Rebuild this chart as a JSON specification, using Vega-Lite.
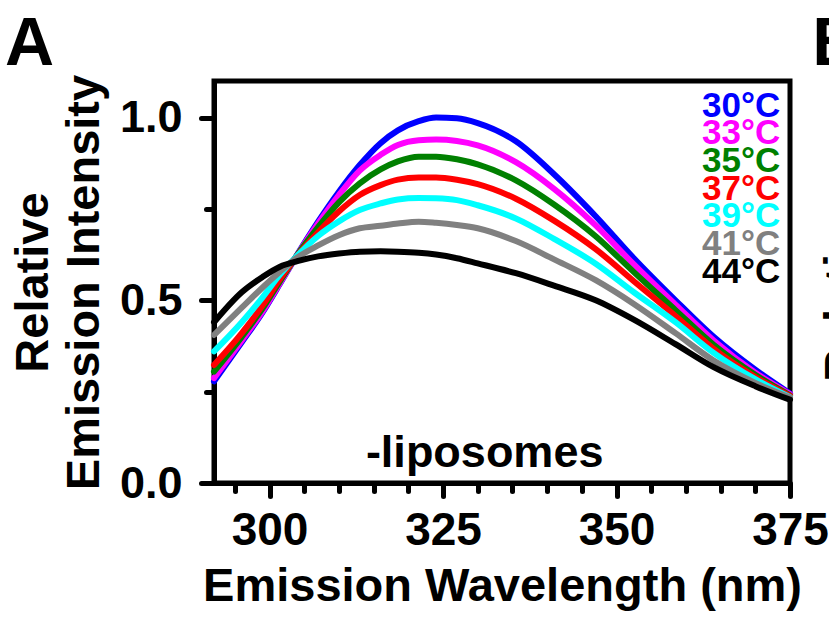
{
  "$schema": "https://vega.github.io/schema/vega-lite/v6.json",
  "width": 576,
  "height": 402,
  "autosize": {"type": "none"},
  "padding": {"left": 214, "top": 81, "right": 39, "bottom": 136},
  "background": "white",
  "config": {
    "view": {"stroke": "black", "strokeWidth": 5},
    "font": "Liberation Sans",
    "axis": {"grid": false, "domainColor": "black", "domainWidth": 5, "tickColor": "black", "tickWidth": 5, "tickCap": "round", "labelFont": "Liberation Sans", "labelFontWeight": "bold", "labelColor": "black", "titleFont": "Liberation Sans", "titleFontWeight": "bold", "titleColor": "black", "labelOverlap": false}
  },
  "datasets": {
    "spectra": [
      {"nm":292,"v":0.278,"t":"30°C"},{"nm":296,"v":0.385,"t":"30°C"},{"nm":299,"v":0.467,"t":"30°C"},{"nm":301.5,"v":0.545,"t":"30°C"},{"nm":304,"v":0.625,"t":"30°C"},{"nm":307,"v":0.715,"t":"30°C"},{"nm":310,"v":0.797,"t":"30°C"},{"nm":313,"v":0.87,"t":"30°C"},{"nm":316,"v":0.93,"t":"30°C"},{"nm":318.5,"v":0.965,"t":"30°C"},{"nm":321.5,"v":0.99,"t":"30°C"},{"nm":324,"v":1.0,"t":"30°C"},{"nm":327,"v":0.998,"t":"30°C"},{"nm":330,"v":0.985,"t":"30°C"},{"nm":335.5,"v":0.935,"t":"30°C"},{"nm":341,"v":0.845,"t":"30°C"},{"nm":347,"v":0.73,"t":"30°C"},{"nm":352.5,"v":0.615,"t":"30°C"},{"nm":358.5,"v":0.5,"t":"30°C"},{"nm":364,"v":0.4,"t":"30°C"},{"nm":370,"v":0.31,"t":"30°C"},{"nm":375,"v":0.245,"t":"30°C"},
      {"nm":292,"v":0.287,"t":"33°C"},{"nm":296,"v":0.39,"t":"33°C"},{"nm":299,"v":0.47,"t":"33°C"},{"nm":301.5,"v":0.547,"t":"33°C"},{"nm":304,"v":0.624,"t":"33°C"},{"nm":307,"v":0.71,"t":"33°C"},{"nm":310,"v":0.788,"t":"33°C"},{"nm":313,"v":0.855,"t":"33°C"},{"nm":316,"v":0.898,"t":"33°C"},{"nm":318.5,"v":0.925,"t":"33°C"},{"nm":321.5,"v":0.938,"t":"33°C"},{"nm":324,"v":0.94,"t":"33°C"},{"nm":327,"v":0.936,"t":"33°C"},{"nm":330,"v":0.924,"t":"33°C"},{"nm":335.5,"v":0.878,"t":"33°C"},{"nm":341,"v":0.805,"t":"33°C"},{"nm":347,"v":0.705,"t":"33°C"},{"nm":352.5,"v":0.598,"t":"33°C"},{"nm":358.5,"v":0.488,"t":"33°C"},{"nm":364,"v":0.39,"t":"33°C"},{"nm":370,"v":0.302,"t":"33°C"},{"nm":375,"v":0.243,"t":"33°C"},
      {"nm":292,"v":0.305,"t":"35°C"},{"nm":296,"v":0.4,"t":"35°C"},{"nm":299,"v":0.478,"t":"35°C"},{"nm":301.5,"v":0.552,"t":"35°C"},{"nm":304,"v":0.624,"t":"35°C"},{"nm":307,"v":0.7,"t":"35°C"},{"nm":310,"v":0.768,"t":"35°C"},{"nm":313,"v":0.82,"t":"35°C"},{"nm":316,"v":0.858,"t":"35°C"},{"nm":318.5,"v":0.88,"t":"35°C"},{"nm":321.5,"v":0.893,"t":"35°C"},{"nm":324,"v":0.893,"t":"35°C"},{"nm":327,"v":0.886,"t":"35°C"},{"nm":330,"v":0.872,"t":"35°C"},{"nm":335.5,"v":0.828,"t":"35°C"},{"nm":341,"v":0.762,"t":"35°C"},{"nm":347,"v":0.675,"t":"35°C"},{"nm":352.5,"v":0.577,"t":"35°C"},{"nm":358.5,"v":0.473,"t":"35°C"},{"nm":364,"v":0.378,"t":"35°C"},{"nm":370,"v":0.296,"t":"35°C"},{"nm":375,"v":0.24,"t":"35°C"},
      {"nm":292,"v":0.323,"t":"37°C"},{"nm":296,"v":0.41,"t":"37°C"},{"nm":299,"v":0.486,"t":"37°C"},{"nm":301.5,"v":0.558,"t":"37°C"},{"nm":304,"v":0.622,"t":"37°C"},{"nm":307,"v":0.686,"t":"37°C"},{"nm":310,"v":0.743,"t":"37°C"},{"nm":313,"v":0.788,"t":"37°C"},{"nm":316,"v":0.815,"t":"37°C"},{"nm":318.5,"v":0.83,"t":"37°C"},{"nm":321.5,"v":0.836,"t":"37°C"},{"nm":324,"v":0.836,"t":"37°C"},{"nm":327,"v":0.83,"t":"37°C"},{"nm":330,"v":0.818,"t":"37°C"},{"nm":335.5,"v":0.778,"t":"37°C"},{"nm":341,"v":0.718,"t":"37°C"},{"nm":347,"v":0.64,"t":"37°C"},{"nm":352.5,"v":0.552,"t":"37°C"},{"nm":358.5,"v":0.457,"t":"37°C"},{"nm":364,"v":0.367,"t":"37°C"},{"nm":370,"v":0.29,"t":"37°C"},{"nm":375,"v":0.238,"t":"37°C"},
      {"nm":292,"v":0.36,"t":"39°C"},{"nm":296,"v":0.44,"t":"39°C"},{"nm":299,"v":0.508,"t":"39°C"},{"nm":301.5,"v":0.57,"t":"39°C"},{"nm":304,"v":0.622,"t":"39°C"},{"nm":307,"v":0.676,"t":"39°C"},{"nm":310,"v":0.716,"t":"39°C"},{"nm":313,"v":0.747,"t":"39°C"},{"nm":316,"v":0.765,"t":"39°C"},{"nm":318.5,"v":0.776,"t":"39°C"},{"nm":321.5,"v":0.78,"t":"39°C"},{"nm":324,"v":0.779,"t":"39°C"},{"nm":327,"v":0.774,"t":"39°C"},{"nm":330,"v":0.76,"t":"39°C"},{"nm":335.5,"v":0.724,"t":"39°C"},{"nm":341,"v":0.668,"t":"39°C"},{"nm":347,"v":0.6,"t":"39°C"},{"nm":352.5,"v":0.522,"t":"39°C"},{"nm":358.5,"v":0.44,"t":"39°C"},{"nm":364,"v":0.356,"t":"39°C"},{"nm":370,"v":0.284,"t":"39°C"},{"nm":375,"v":0.235,"t":"39°C"},
      {"nm":292,"v":0.405,"t":"41°C"},{"nm":296,"v":0.48,"t":"41°C"},{"nm":299,"v":0.535,"t":"41°C"},{"nm":301.5,"v":0.578,"t":"41°C"},{"nm":304,"v":0.617,"t":"41°C"},{"nm":307,"v":0.65,"t":"41°C"},{"nm":310,"v":0.678,"t":"41°C"},{"nm":313,"v":0.697,"t":"41°C"},{"nm":316,"v":0.704,"t":"41°C"},{"nm":318.5,"v":0.71,"t":"41°C"},{"nm":321.5,"v":0.715,"t":"41°C"},{"nm":324,"v":0.712,"t":"41°C"},{"nm":327,"v":0.706,"t":"41°C"},{"nm":330,"v":0.697,"t":"41°C"},{"nm":335.5,"v":0.662,"t":"41°C"},{"nm":341,"v":0.612,"t":"41°C"},{"nm":347,"v":0.555,"t":"41°C"},{"nm":352.5,"v":0.49,"t":"41°C"},{"nm":358.5,"v":0.41,"t":"41°C"},{"nm":364,"v":0.335,"t":"41°C"},{"nm":370,"v":0.274,"t":"41°C"},{"nm":375,"v":0.234,"t":"41°C"},
      {"nm":292,"v":0.44,"t":"44°C"},{"nm":296,"v":0.522,"t":"44°C"},{"nm":299,"v":0.564,"t":"44°C"},{"nm":301.5,"v":0.592,"t":"44°C"},{"nm":304,"v":0.607,"t":"44°C"},{"nm":307,"v":0.62,"t":"44°C"},{"nm":310,"v":0.628,"t":"44°C"},{"nm":313,"v":0.633,"t":"44°C"},{"nm":316,"v":0.634,"t":"44°C"},{"nm":318.5,"v":0.633,"t":"44°C"},{"nm":321.5,"v":0.63,"t":"44°C"},{"nm":324,"v":0.625,"t":"44°C"},{"nm":327,"v":0.615,"t":"44°C"},{"nm":330,"v":0.601,"t":"44°C"},{"nm":335.5,"v":0.574,"t":"44°C"},{"nm":341,"v":0.54,"t":"44°C"},{"nm":347,"v":0.5,"t":"44°C"},{"nm":352.5,"v":0.447,"t":"44°C"},{"nm":358.5,"v":0.38,"t":"44°C"},{"nm":364,"v":0.317,"t":"44°C"},{"nm":370,"v":0.265,"t":"44°C"},{"nm":375,"v":0.228,"t":"44°C"}
    ],
    "temps": [{"t":"30°C"},{"t":"33°C"},{"t":"35°C"},{"t":"37°C"},{"t":"39°C"},{"t":"41°C"},{"t":"44°C"}],
    "panels": [{"label": "A", "nm": 261.9}, {"label": "B", "nm": 378.2}]
  },
  "layer": [
    {
      "layer": [
        {
          "data": {"name": "spectra"},
          "mark": {"type": "line", "strokeWidth": 6, "interpolate": "monotone", "strokeCap": "round", "strokeJoin": "round"},
          "encoding": {
            "x": {"field": "nm", "type": "quantitative", "scale": {"domain": [292, 375], "nice": false, "zero": false},
              "axis": {"title": "Emission Wavelength (nm)", "titleFontSize": 47, "titlePadding": 10, "labelFontSize": 46, "labelPadding": 12, "labelOverlap": false, "labelFlush": false, "tickCount": 40,
                "values": [295,300,305,310,315,320,325,330,335,340,345,350,355,360,365,370,375],
                "labelExpr": "datum.value % 25 === 0 ? datum.label : ''",
                "tickSize": {"condition": {"test": "datum.value % 25 === 0", "value": 13}, "value": 8}}},
            "y": {"field": "v", "type": "quantitative", "scale": {"domain": [0, 1.1], "nice": false},
              "axis": {"title": ["Relative", "Emission Intensity"], "titleFontSize": 47, "titleLineHeight": 51, "titlePadding": 11, "labelFontSize": 45, "labelPadding": 19, "labelOverlap": false, "tickCount": 20,
                "values": [0, 0.25, 0.5, 0.75, 1],
                "labelExpr": "datum.value % 0.5 === 0 ? format(datum.value, '.1f') : ''",
                "tickSize": {"condition": {"test": "datum.value % 0.5 === 0", "value": 13}, "value": 8}}},
            "color": {"field": "t", "type": "nominal",
              "scale": {"domain": ["30°C","33°C","35°C","37°C","39°C","41°C","44°C"], "range": ["#0000ff","#ff00ff","#008000","#ff0000","#00ffff","#808080","#000000"]},
              "legend": null}
          }
        },
        {
          "data": {"values": [{"label": "-liposomes"}]},
          "mark": {"type": "text", "font": "Liberation Sans", "fontSize": 45, "fontWeight": "bold", "color": "black", "align": "center", "baseline": "alphabetic"},
          "encoding": {
            "x": {"datum": 331},
            "y": {"datum": 0.045},
            "text": {"field": "label"}
          }
        },
        {
          "data": {"name": "panels"},
          "mark": {"type": "text", "font": "Liberation Sans", "fontSize": 68, "fontWeight": "bold", "color": "black", "align": "left", "baseline": "alphabetic", "clip": false},
          "encoding": {
            "x": {"field": "nm", "type": "quantitative"},
            "y": {"datum": 1.144},
            "text": {"field": "label"}
          }
        },
        {
          "data": {"values": [{"label": "Relative"}]},
          "mark": {"type": "text", "font": "Liberation Sans", "fontSize": 47, "fontWeight": "bold", "color": "black", "align": "center", "baseline": "alphabetic", "angle": 270, "clip": false},
          "encoding": {
            "x": {"datum": 384.6},
            "y": {"datum": 0.523},
            "text": {"field": "label"}
          }
        }
      ]
    },
    {
      "data": {"name": "temps"},
      "mark": {"type": "text", "font": "Liberation Sans", "fontSize": 35, "fontWeight": "bold", "align": "right", "baseline": "alphabetic"},
      "encoding": {
        "x": {"datum": 373.6},
        "y": {"field": "t", "type": "nominal", "scale": {"type": "point", "domain": ["30°C","33°C","35°C","37°C","39°C","41°C","44°C"], "range": [35.7, 201.7], "padding": 0}, "axis": null},
        "text": {"field": "t"},
        "color": {"field": "t", "type": "nominal",
          "scale": {"domain": ["30°C","33°C","35°C","37°C","39°C","41°C","44°C"], "range": ["#0000ff","#ff00ff","#008000","#ff0000","#00ffff","#808080","#000000"]},
          "legend": null}
      }
    }
  ],
  "resolve": {"scale": {"y": "independent"}, "axis": {"y": "independent"}}
}
